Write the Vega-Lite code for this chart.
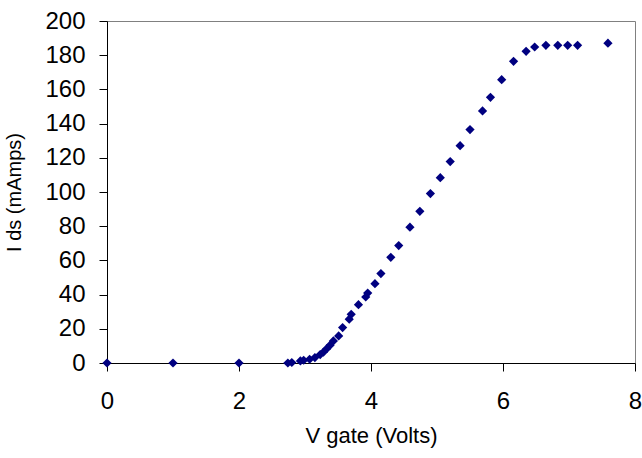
{
  "$schema": "https://vega.github.io/schema/vega-lite/v6.json",
  "autosize": "none",
  "width": 528,
  "height": 342,
  "padding": {"left": 107, "top": 21, "right": 7, "bottom": 95},
  "background": "white",
  "config": {
    "font": "Liberation Sans",
    "view": {"stroke": "#808080", "strokeWidth": 1}
  },
  "data": {
    "values": [
      {"v": 0, "i": 0},
      {"v": 1, "i": 0},
      {"v": 2, "i": 0},
      {"v": 2.74, "i": 0},
      {"v": 2.8, "i": 0.3},
      {"v": 2.93, "i": 1.2},
      {"v": 2.98, "i": 1.6},
      {"v": 3.07, "i": 2.2},
      {"v": 3.15, "i": 3.2},
      {"v": 3.23, "i": 4.9},
      {"v": 3.28, "i": 6.4},
      {"v": 3.33, "i": 8.4},
      {"v": 3.38, "i": 10.4},
      {"v": 3.43, "i": 12.9},
      {"v": 3.51, "i": 15.8},
      {"v": 3.57, "i": 20.7},
      {"v": 3.67, "i": 25.6},
      {"v": 3.7, "i": 28.5},
      {"v": 3.81, "i": 34.1},
      {"v": 3.92, "i": 38.6},
      {"v": 3.95, "i": 40.9},
      {"v": 4.06, "i": 46.4},
      {"v": 4.15, "i": 52.3},
      {"v": 4.3, "i": 61.8},
      {"v": 4.42, "i": 68.7},
      {"v": 4.59, "i": 79.4},
      {"v": 4.74, "i": 88.7},
      {"v": 4.9, "i": 99.1},
      {"v": 5.05, "i": 108.4},
      {"v": 5.2, "i": 117.8},
      {"v": 5.35, "i": 127.1},
      {"v": 5.5, "i": 136.5},
      {"v": 5.69, "i": 147.4},
      {"v": 5.81, "i": 155.4},
      {"v": 5.98, "i": 165.7},
      {"v": 6.16, "i": 176.4},
      {"v": 6.35, "i": 182.3},
      {"v": 6.48, "i": 184.8},
      {"v": 6.65, "i": 185.8},
      {"v": 6.83, "i": 185.8},
      {"v": 6.98, "i": 185.8},
      {"v": 7.13, "i": 185.8},
      {"v": 7.59, "i": 187}
    ]
  },
  "mark": {"type": "point", "shape": "diamond", "filled": true, "size": 85, "color": "#000080", "opacity": 1, "clip": false},
  "encoding": {
    "x": {
      "field": "v", "type": "quantitative",
      "scale": {"domain": [0, 8], "nice": false, "zero": false},
      "axis": {
        "title": "V gate (Volts)", "values": [0, 2, 4, 6, 8], "grid": false,
        "labelFlush": false, "labelOverlap": false,
        "domainColor": "#000000", "tickColor": "#000000", "tickSize": 8,
        "labelFontSize": 24, "labelColor": "#000000", "labelPadding": 18,
        "titleFontSize": 22, "titleFontWeight": "normal", "titleColor": "#000000", "titlePadding": 12
      }
    },
    "y": {
      "field": "i", "type": "quantitative",
      "scale": {"domain": [0, 200], "nice": false},
      "axis": {
        "title": "I ds (mAmps)", "values": [0, 20, 40, 60, 80, 100, 120, 140, 160, 180, 200], "grid": false,
        "labelFlush": false, "labelOverlap": false,
        "domainColor": "#000000", "tickColor": "#000000", "tickSize": 8,
        "labelFontSize": 24, "labelColor": "#000000", "labelPadding": 14,
        "titleFontSize": 20, "titleFontWeight": "normal", "titleColor": "#000000", "titlePadding": 20
      }
    }
  }
}
